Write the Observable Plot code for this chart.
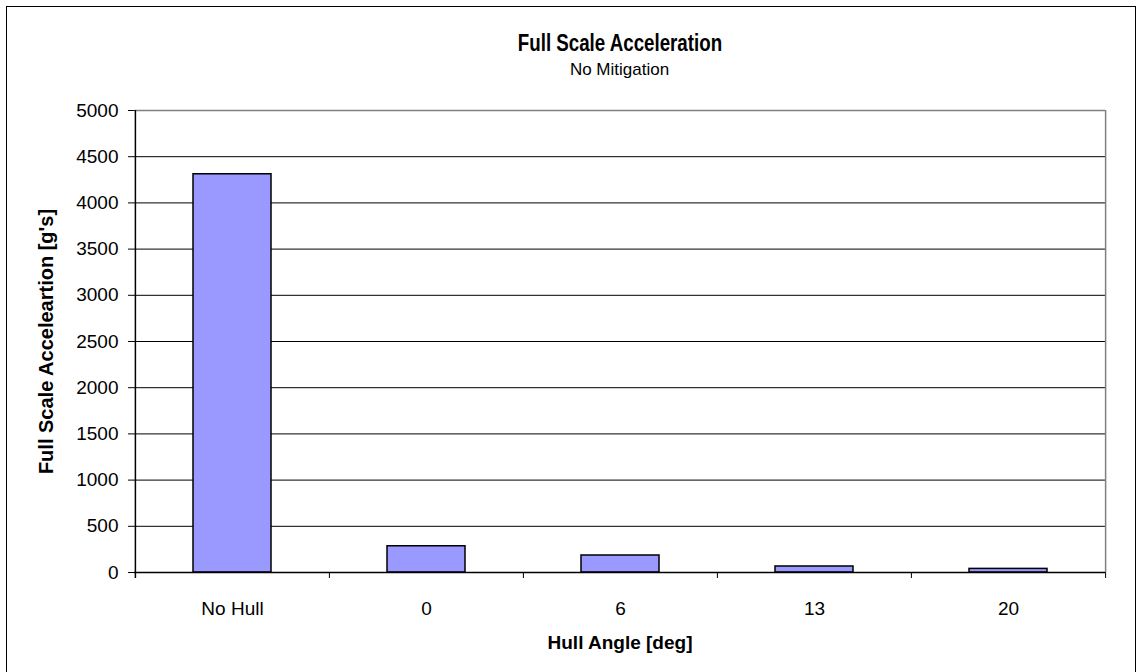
<!DOCTYPE html>
<html>
<head>
<meta charset="utf-8">
<script src="https://cdn.jsdelivr.net/npm/d3@7"></script>
<script src="https://cdn.jsdelivr.net/npm/@observablehq/plot@0.6"></script>
<style>
  html, body { margin: 0; padding: 0; background: #fff; }
  #wrap { position: relative; width: 1138px; height: 672px; overflow: hidden; font-family: "Liberation Sans", Arial, sans-serif; }
  #border { position: absolute; left: 6px; top: 6px; width: 1130px; height: 680px; border: 1.5px solid #000; box-sizing: border-box; }
  #title { position: absolute; left: 134px; width: 971px; top: 29px; text-align: center; color: #000; }
  #title span { display: inline-block; font-weight: bold; font-size: 24px; transform: scaleX(0.78); transform-origin: center; }
  #subtitle { position: absolute; left: 134px; width: 971px; top: 60px; text-align: center; font-size: 17px; color: #000; }
  #chart { position: absolute; left: 0; top: 0; }
</style>
</head>
<body>
<div id="wrap">
  <div id="chart"></div>
  <div id="border"></div>
  <div id="title"><span>Full Scale Acceleration</span></div>
  <div id="subtitle">No Mitigation</div>
</div>
<script>
const categories = ["No Hull", "0", "6", "13", "20"];
const values = [4310, 284, 184, 65, 39];
const yTicks = [0, 500, 1000, 1500, 2000, 2500, 3000, 3500, 4000, 4500, 5000];
const gridTicks = [500, 1000, 1500, 2000, 2500, 3000, 3500, 4000, 4500];
const xTitle = "Hull Angle [deg]";
const yTitle = "Full Scale Acceleartion [g's]";

const data = categories.map((c, i) => ({category: c, value: values[i]}));

const W = 1138, H = 672;
const mL = 134, mR = 33, mT = 110, mB = 100;
const step = (W - mL - mR) / categories.length;

const chart = Plot.plot({
  width: W,
  height: H,
  marginLeft: mL,
  marginRight: mR,
  marginTop: mT,
  marginBottom: mB,
  style: {fontFamily: "Liberation Sans, Arial, sans-serif", fontSize: "19px", background: "transparent", color: "#000", overflow: "visible"},
  x: {domain: categories, padding: 0.6, paddingOuter: 0.3, align: 0.5, label: null},
  y: {domain: [0, 5000], label: null},
  marks: [
    // horizontal gridlines
    Plot.ruleY(gridTicks, {stroke: "#000", strokeWidth: 1}),
    Plot.ruleY([5000], {stroke: "#808080", strokeWidth: 1.5}),
    // right plot border
    Plot.ruleX([categories[categories.length - 1]], {dx: step / 2, stroke: "#808080", strokeWidth: 1.5}),
    // bars
    Plot.barY(data, {x: "category", y: "value", fill: "#9999ff", stroke: "#000", strokeWidth: 1.5}),
    // axes
    Plot.axisY({ticks: yTicks, tickSize: 6, tickPadding: 10, tickFormat: d => String(d), fontSize: 19, label: null, stroke: "#000"}),
    Plot.ruleX([categories[0]], {dx: -step / 2, stroke: "#000", strokeWidth: 1.5, insetBottom: -6}),
    Plot.ruleY([0], {stroke: "#000", strokeWidth: 1.5}),
    Plot.axisX({tickSize: 0, tickPadding: 29, fontSize: 19, label: null}),
    // category boundary ticks
    Plot.ruleX(categories.slice(1), {x: d => d, dx: -step / 2, y1: 0, y2: 0, insetBottom: -6, stroke: "#000"}),
    Plot.ruleX([categories[categories.length - 1]], {x: d => d, dx: step / 2, y1: 0, y2: 0, insetBottom: -6, stroke: "#000"}),
    // axis titles
    Plot.text([xTitle], {frameAnchor: "bottom", dy: 76, fontWeight: "bold", fontSize: 19, text: d => d}),
    Plot.text([yTitle], {frameAnchor: "left", dx: -88, rotate: -90, textAnchor: "middle", fontWeight: "bold", fontSize: 20, text: d => d})
  ]
});
document.getElementById("chart").appendChild(chart);
</script>
</body>
</html>
